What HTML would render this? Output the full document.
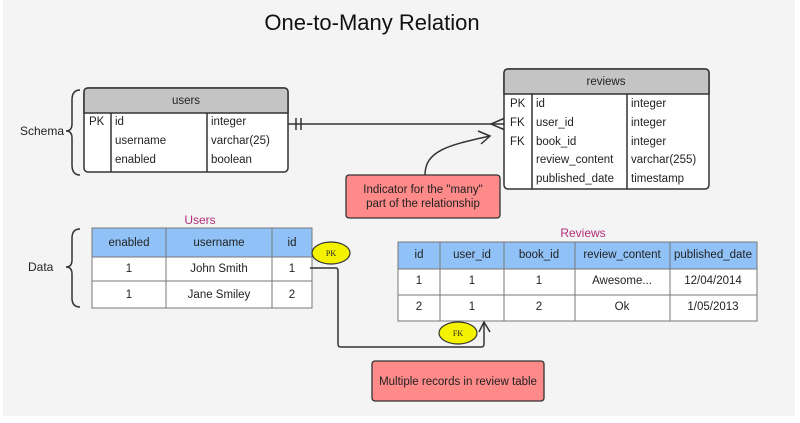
<!DOCTYPE html>
<html><head><meta charset="utf-8"><style>
html,body{margin:0;padding:0;background:#fff;}
svg{display:block;font-family:"Liberation Sans",sans-serif;}
</style></head><body>
<svg width="800" height="423" viewBox="0 0 800 423" xmlns="http://www.w3.org/2000/svg">
<rect x="3" y="0" width="792" height="416" fill="#f4f4f4"/>
<text x="372" y="30" font-size="22" text-anchor="middle" fill="#111">One-to-Many Relation</text>

<!-- Schema brace -->
<path d="M80,90 Q72,90 72,100 L72,124 Q72,131 66,131 Q72,131 72,138 L72,165 Q72,175 80,175" fill="none" stroke="#333" stroke-width="1.5"/>
<text x="20" y="135" font-size="12" fill="#222">Schema</text>

<!-- users schema -->
<rect x="84" y="88" width="204" height="84" rx="4" fill="#fff" stroke="#333" stroke-width="1.5"/>
<path d="M84,113 L84,92 Q84,88 88,88 L284,88 Q288,88 288,92 L288,113 Z" fill="#c4c4c4" stroke="#333" stroke-width="1.5"/>
<line x1="111" y1="113" x2="111" y2="172" stroke="#333" stroke-width="1.5"/>
<line x1="207" y1="113" x2="207" y2="172" stroke="#333" stroke-width="1.5"/>
<g font-size="11.5" fill="#222">
<text x="186" y="104" text-anchor="middle">users</text>
<text x="89" y="125">PK</text>
<text x="115" y="125">id</text><text x="211" y="125">integer</text>
<text x="115" y="144">username</text><text x="211" y="144">varchar(25)</text>
<text x="115" y="163">enabled</text><text x="211" y="163">boolean</text>
</g>

<!-- relation line -->
<line x1="288" y1="124" x2="505" y2="124" stroke="#333" stroke-width="1.5"/>
<line x1="296" y1="118" x2="296" y2="130" stroke="#333" stroke-width="1.5"/>
<line x1="301" y1="118" x2="301" y2="130" stroke="#333" stroke-width="1.5"/>
<path d="M505,118 L491,124 L505,130" fill="none" stroke="#333" stroke-width="1.5"/>

<!-- reviews schema -->
<rect x="504" y="69" width="205" height="120" rx="4" fill="#fff" stroke="#333" stroke-width="1.5"/>
<path d="M504,94 L504,73 Q504,69 508,69 L705,69 Q709,69 709,73 L709,94 Z" fill="#c4c4c4" stroke="#333" stroke-width="1.5"/>
<line x1="532" y1="94" x2="532" y2="189" stroke="#333" stroke-width="1.5"/>
<line x1="627" y1="94" x2="627" y2="189" stroke="#333" stroke-width="1.5"/>
<g font-size="11.5" fill="#222">
<text x="606" y="85" text-anchor="middle">reviews</text>
<text x="510" y="107">PK</text><text x="536" y="107">id</text><text x="631" y="107">integer</text>
<text x="510" y="126">FK</text><text x="536" y="126">user_id</text><text x="631" y="126">integer</text>
<text x="510" y="145">FK</text><text x="536" y="145">book_id</text><text x="631" y="145">integer</text>
<text x="536" y="163">review_content</text><text x="631" y="163">varchar(255)</text>
<text x="536" y="182">published_date</text><text x="631" y="182">timestamp</text>
</g>

<!-- note 1 -->
<path d="M425,175 C425,150 450,145 490,136" fill="none" stroke="#333" stroke-width="1.5"/>
<path d="M478,131 L490,136 L481,144" fill="none" stroke="#333" stroke-width="1.5"/>
<rect x="346" y="175" width="154" height="43" rx="3" fill="#ff8a8a" stroke="#333" stroke-width="1.3"/>
<g font-size="11.5" fill="#222" text-anchor="middle">
<text x="423" y="193">Indicator for the "many"</text>
<text x="423" y="207">part of the relationship</text>
</g>

<!-- Data brace -->
<path d="M80,229 Q72,229 72,238 L72,260 Q72,267 66,267 Q72,267 72,274 L72,298 Q72,307 80,307" fill="none" stroke="#333" stroke-width="1.5"/>
<text x="28" y="271" font-size="12" fill="#222">Data</text>

<!-- Users data table -->
<text x="200" y="224" font-size="12" fill="#b0307a" text-anchor="middle">Users</text>
<rect x="92" y="228" width="220" height="29" fill="#90c2f8"/>
<rect x="92" y="257" width="220" height="51" fill="#fff"/>
<g stroke="#777" stroke-width="1" fill="none">
<rect x="92" y="228" width="220" height="80"/>
<line x1="92" y1="257" x2="312" y2="257"/><line x1="92" y1="281" x2="312" y2="281"/>
<line x1="166" y1="228" x2="166" y2="308"/><line x1="272" y1="228" x2="272" y2="308"/>
</g>
<g font-size="11.5" fill="#222" text-anchor="middle">
<text x="129" y="246">enabled</text><text x="219" y="246">username</text><text x="292" y="246">id</text>
<text x="129" y="272">1</text><text x="219" y="272">John Smith</text><text x="292" y="272">1</text>
<text x="129" y="298">1</text><text x="219" y="298">Jane Smiley</text><text x="292" y="298">2</text>
</g>

<!-- Reviews data table -->
<text x="583" y="237" font-size="12" fill="#b0307a" text-anchor="middle">Reviews</text>
<rect x="398" y="242" width="359" height="27" fill="#90c2f8"/>
<rect x="398" y="269" width="359" height="52" fill="#fff"/>
<g stroke="#777" stroke-width="1" fill="none">
<rect x="398" y="242" width="359" height="79"/>
<line x1="398" y1="269" x2="757" y2="269"/><line x1="398" y1="295" x2="757" y2="295"/>
<line x1="440" y1="242" x2="440" y2="321"/><line x1="504" y1="242" x2="504" y2="321"/>
<line x1="575" y1="242" x2="575" y2="321"/><line x1="670" y1="242" x2="670" y2="321"/>
</g>
<g font-size="11.5" fill="#222" text-anchor="middle">
<text x="419" y="258">id</text><text x="472" y="258">user_id</text><text x="539" y="258">book_id</text><text x="622" y="258">review_content</text><text x="713" y="258">published_date</text>
<text x="419" y="284">1</text><text x="472" y="284">1</text><text x="539" y="284">1</text><text x="622" y="284">Awesome...</text><text x="713" y="284">12/04/2014</text>
<text x="419" y="310">2</text><text x="472" y="310">1</text><text x="539" y="310">2</text><text x="622" y="310">Ok</text><text x="713" y="310">1/05/2013</text>
</g>

<!-- connector -->
<path d="M310,268 L336,268 Q338,268 338,271 L338,344 Q338,347 341,347 L481,347 Q484,347 484,344 L484,322" fill="none" stroke="#333" stroke-width="1.5"/>
<path d="M479,332 L484,322 L490,332" fill="none" stroke="#333" stroke-width="1.5"/>

<!-- PK ellipses -->
<ellipse cx="331" cy="253" rx="19" ry="11" fill="#f5f200" stroke="#333" stroke-width="1.2"/>
<text x="331" y="256" font-size="8" font-family="Liberation Serif,serif" text-anchor="middle" fill="#222">PK</text>
<ellipse cx="458" cy="333" rx="19" ry="11" fill="#f5f200" stroke="#333" stroke-width="1.2"/>
<text x="458" y="336" font-size="8" font-family="Liberation Serif,serif" text-anchor="middle" fill="#222">FK</text>

<!-- note 2 -->
<rect x="372" y="361" width="172" height="40" rx="3" fill="#ff8a8a" stroke="#333" stroke-width="1.3"/>
<text x="458" y="385" font-size="11.5" fill="#222" text-anchor="middle">Multiple records in review table</text>
</svg>
</body></html>
